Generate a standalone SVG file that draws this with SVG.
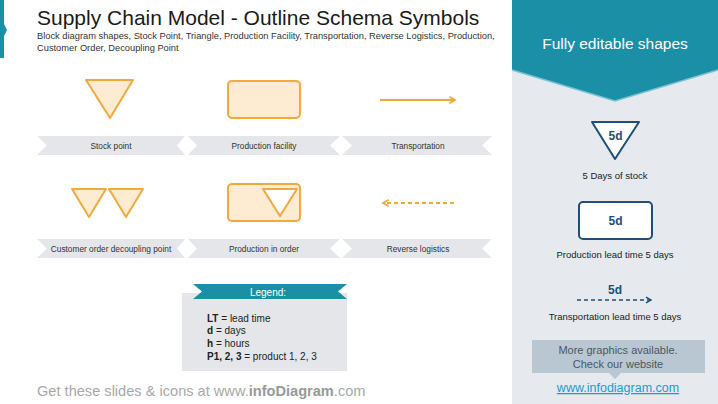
<svg xmlns="http://www.w3.org/2000/svg" width="718" height="404" viewBox="0 0 718 404">
<defs>
<style>
.t{font-family:"Liberation Sans",Arial,sans-serif}
.ban{fill:#e4e6e9}
.bt{font-family:"Liberation Sans",Arial,sans-serif;font-size:8.3px;fill:#333;text-anchor:middle}
.or{fill:#fdecd2;stroke:#f2a93b;stroke-width:2;stroke-linejoin:round}
.bl{fill:#fff;stroke:#1d4f78;stroke-width:2;stroke-linejoin:round}
.bd{font-family:"Liberation Sans",Arial,sans-serif;font-size:12px;font-weight:bold;fill:#1d4f78;text-anchor:middle}
.rt{font-family:"Liberation Sans",Arial,sans-serif;font-size:9.5px;fill:#222;text-anchor:middle}
.lg{font-family:"Liberation Sans",Arial,sans-serif;font-size:10px;fill:#222}
</style>
<marker id="ao" viewBox="0 0 10 10" refX="8" refY="5" markerWidth="4" markerHeight="4" orient="auto"><path d="M1,1 L8,5 L1,9" fill="none" stroke="#f2a93b" stroke-width="2.2"/></marker>
<marker id="ab" viewBox="0 0 10 10" refX="8" refY="5" markerWidth="4.5" markerHeight="4.5" orient="auto"><path d="M1,1 L8,5 L1,9" fill="none" stroke="#1d4f78" stroke-width="2"/></marker>
</defs>
<rect width="718" height="404" fill="#fff"/>
<path d="M0,0 H4 V24 L7,30 L4,36 V58 H0 Z" fill="#1a8fa5"/>
<text class="t" x="37" y="25" font-size="21" fill="#1a1a1a">Supply Chain Model - Outline Schema Symbols</text>
<text class="t" x="37" y="38.5" font-size="9.3" fill="#333">Block diagram shapes, Stock Point, Triangle, Production Facility, Transportation, Reverse Logistics, Production,</text>
<text class="t" x="37" y="51" font-size="9.3" fill="#333">Customer Order, Decoupling Point</text>

<g id="panel">
<rect x="512" y="0" width="206" height="404" fill="#e6e9ed"/>
<path d="M512,0 H718 V70 L615,101 L512,70 Z" fill="#1a8fa5"/>
<path d="M512,70 L615,101 L718,70" fill="none" stroke="#7cc3d2" stroke-width="1.5"/>
<text class="t" x="615" y="49" font-size="15.5" fill="#fff" text-anchor="middle">Fully editable shapes</text>
</g>

<g id="stock-point">
<path class="or" d="M86,80 H133 L110,118 Z"/>
<path class="ban" d="M37,136 H185 L177,145.5 L185,155 H37 L47,145.5 Z"/>
<text class="bt" x="111" y="148.5">Stock point</text>
</g>
<g id="production-facility">
<rect class="or" x="228" y="81" width="72" height="37" rx="4"/>
<path class="ban" d="M188,136 H340 L330,145.5 L340,155 H188 L197,145.5 Z"/>
<text class="bt" x="264" y="148.5">Production  facility</text>
</g>
<g id="transportation">
<path class="ban" d="M342,136 H492 L482,145.5 L492,155 H342 L352,145.5 Z"/>
<text class="bt" x="418" y="148.5">Transportation</text>
</g>

<g id="decoupling-point">
<path class="or" d="M72,189 H106 L89,217 Z"/>
<path class="or" d="M109,189 H143 L126,217 Z"/>
<path class="ban" d="M37,239 H185 L177,248.5 L185,258 H37 L47,248.5 Z"/>
<text class="bt" x="111" y="251.5">Customer order decoupling point</text>
</g>
<g id="production-in-order">
<rect class="or" x="228" y="184" width="72" height="37" rx="4"/>
<path d="M263,189 H297 L280,216 Z" fill="#fff" stroke="#f2a93b" stroke-width="2" stroke-linejoin="round"/>
<path class="ban" d="M188,239 H340 L330,248.5 L340,258 H188 L197,248.5 Z"/>
<text class="bt" x="264" y="251.5">Production  in order</text>
</g>
<g id="reverse-logistics">
<path class="ban" d="M342,239 H492 L482,248.5 L492,258 H342 L352,248.5 Z"/>
<text class="bt" x="418" y="251.5">Reverse logistics</text>
</g>

<g id="connectors">
<line x1="380" y1="100" x2="455" y2="100" stroke="#f2a93b" stroke-width="2" marker-end="url(#ao)"/>
<line x1="454" y1="203" x2="383" y2="203" stroke="#f2a93b" stroke-width="2" stroke-dasharray="4,3" marker-end="url(#ao)"/>
<line x1="577" y1="300" x2="651" y2="300" stroke="#1d4f78" stroke-width="1.6" stroke-dasharray="4,3" marker-end="url(#ab)"/>
</g>

<g id="legend">
<rect x="182" y="293" width="165" height="78" fill="#e4e6e9"/>
<path d="M193,284 H347 L338,291.5 L347,299 H193 L202,291.5 Z" fill="#1a8fa5"/>
<text class="t" x="268" y="296" font-size="10" fill="#fff" text-anchor="middle">Legend:</text>
<text class="lg" x="207" y="322"><tspan font-weight="bold">LT</tspan> = lead time</text>
<text class="lg" x="207" y="334"><tspan font-weight="bold">d</tspan> = days</text>
<text class="lg" x="207" y="347"><tspan font-weight="bold">h</tspan> = hours</text>
<text class="lg" x="207" y="360"><tspan font-weight="bold">P1, 2, 3</tspan> = product 1, 2, 3</text>
</g>

<g id="days-of-stock">
<path class="bl" d="M592,122 H639 L615,159 Z"/>
<text class="bd" x="615.5" y="140">5d</text>
<text class="rt" x="615" y="179">5 Days of stock</text>
</g>
<g id="production-lead">
<rect class="bl" x="579" y="202" width="73" height="37" rx="4"/>
<text class="bd" x="615.5" y="225">5d</text>
<text class="rt" x="615" y="258">Production lead time 5 days</text>
</g>
<g id="transport-lead">
<text class="bd" x="615" y="294">5d</text>
<text class="rt" x="615" y="320">Transportation lead time 5 days</text>
</g>
<g id="callout">
<path d="M532,340 H705 V373 H621 L615,379 L609,373 H532 Z" fill="#b9c7d2"/>
<text class="t" x="618" y="354" font-size="11" fill="#4a5864" text-anchor="middle">More graphics available.</text>
<text class="t" x="618" y="368" font-size="11" fill="#4a5864" text-anchor="middle">Check our website</text>
<text class="t" x="618" y="392" font-size="12.5" fill="#1c9ad6" text-anchor="middle" text-decoration="underline">www.infodiagram.com</text>
</g>

<text class="t" x="37" y="396" font-size="14.6" fill="#a8a8a8">Get these slides &amp; icons at www.<tspan font-weight="bold" fill="#999">infoDiagram</tspan>.com</text>
</svg>
